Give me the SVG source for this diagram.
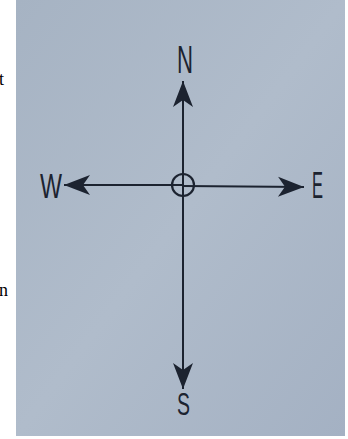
<svg xmlns="http://www.w3.org/2000/svg" width="348" height="439" viewBox="0 0 348 439">
  <defs>
    <linearGradient id="paper" x1="0" y1="0" x2="1" y2="1">
      <stop offset="0" stop-color="#a6b3c3"/>
      <stop offset="0.5" stop-color="#b0bccb"/>
      <stop offset="1" stop-color="#a4b1c3"/>
    </linearGradient>
    <marker id="head" viewBox="-28 -12 30 24" markerUnits="userSpaceOnUse" markerWidth="30" markerHeight="24" refX="0" refY="0" orient="auto">
      <path d="M0,0 L-26,-10 L-19,0 L-26,10 Z" fill="#1c2330"/>
    </marker>
    <style>
      .ln { stroke: #1c2330; stroke-width: 2; fill: none; }
      .lbl { font-family: "Liberation Sans", Arial, sans-serif; fill: #1c2330; lengthAdjust: spacingAndGlyphs; }
      .side { font-family: "Liberation Serif", "Times New Roman", serif; font-size: 18px; fill: #000; }
    </style>
  </defs>
  <rect width="348" height="439" fill="#ffffff"/>
  <text class="side" x="-1" y="85">t</text>
  <text class="side" x="-1" y="296">n</text>
  <rect x="16" y="0" width="329" height="436" fill="url(#paper)"/>

  <g id="connectors">
    <line class="ln" x1="183" y1="185" x2="183" y2="81" marker-end="url(#head)"/>
    <line class="ln" x1="183" y1="185" x2="183" y2="389" marker-end="url(#head)"/>
    <line class="ln" x1="183" y1="185" x2="64" y2="185" marker-end="url(#head)"/>
    <line class="ln" x1="183" y1="186" x2="304" y2="187" marker-end="url(#head)"/>
  </g>

  <g id="center">
    <circle cx="183" cy="185" r="11" fill="none" stroke="#1c2330" stroke-width="2.2"/>
  </g>
  <g id="north">
    <text class="lbl" x="177" y="73" font-size="39" textLength="16" lengthAdjust="spacingAndGlyphs">N</text>
  </g>
  <g id="west">
    <text class="lbl" x="40" y="198" font-size="35" textLength="22" lengthAdjust="spacingAndGlyphs">W</text>
  </g>
  <g id="east">
    <text class="lbl" x="312" y="198" font-size="36" textLength="11" lengthAdjust="spacingAndGlyphs">E</text>
  </g>
  <g id="south">
    <text class="lbl" x="177" y="415" font-size="31" textLength="13" lengthAdjust="spacingAndGlyphs">S</text>
  </g>
</svg>
